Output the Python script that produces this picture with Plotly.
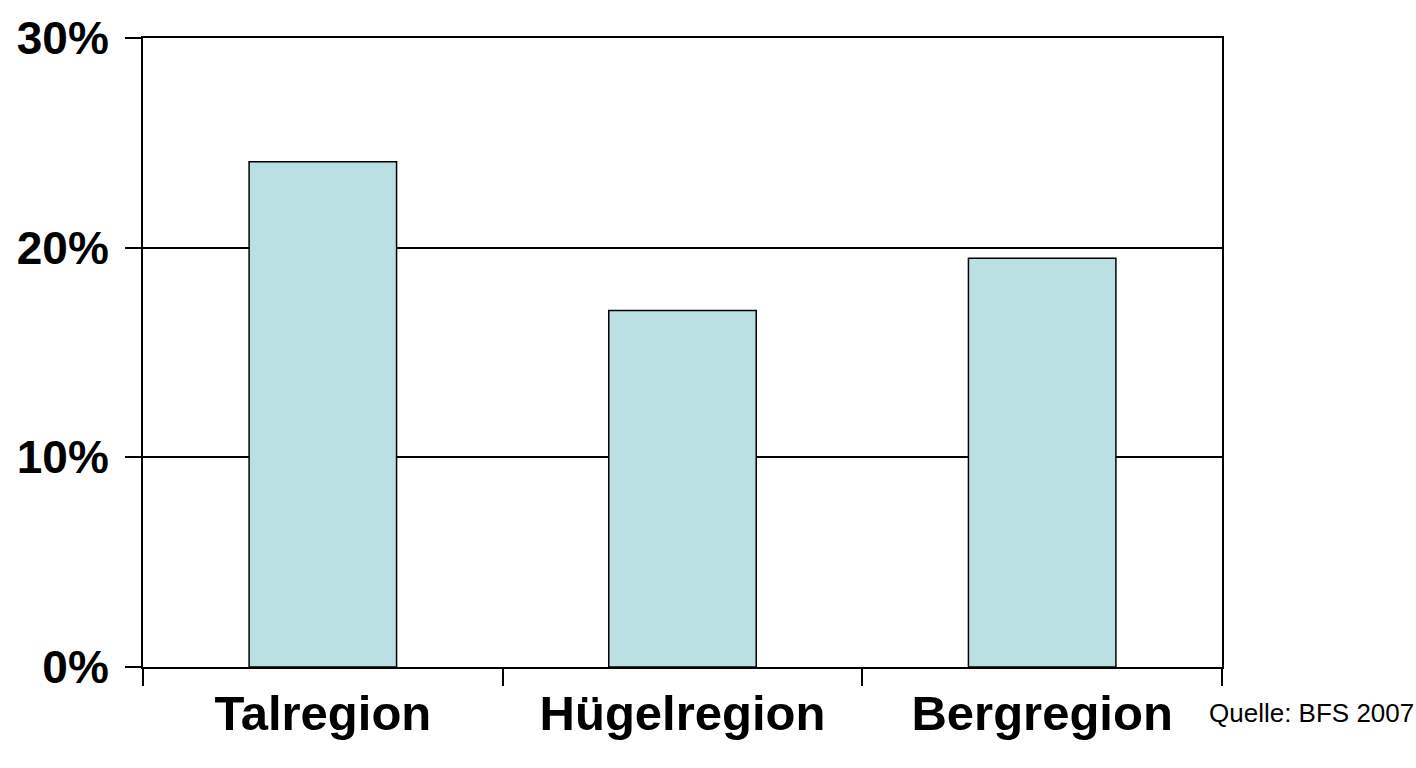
import plotly.graph_objects as go

categories = ["Talregion", "Hügelregion", "Bergregion"]
values = [24.1, 17.0, 19.5]
y_ticks = [0, 10, 20, 30]
y_tick_labels = ["0%", "10%", "20%", "30%"]
source_text = "Quelle: BFS 2007"

fig = go.Figure()
fig.add_trace(go.Bar(
    x=categories,
    y=values,
    marker=dict(color="#BAE0E3", line=dict(color="black", width=1.5)),
    hoverinfo="skip",
))

font_family = "Liberation Sans, Arial, Helvetica, sans-serif"

fig.update_layout(
    width=1416,
    height=768,
    margin=dict(l=143, r=194, t=31, b=101),
    paper_bgcolor="white",
    plot_bgcolor="white",
    bargap=0.59,
    showlegend=False,
    font=dict(family=font_family, color="black"),
)

fig.update_xaxes(
    type="category",
    showline=True,
    linecolor="black",
    linewidth=2,
    mirror=True,
    ticks="outside",
    tickson="boundaries",
    ticklen=17,
    tickwidth=1.5,
    tickcolor="black",
    tickfont=dict(size=49, family=font_family, color="black", weight="bold"),
    ticklabelstandoff=2,
    showgrid=False,
)

fig.update_yaxes(
    range=[0, 30],
    tickvals=y_ticks,
    ticktext=y_tick_labels,
    showline=True,
    linecolor="black",
    linewidth=2,
    mirror=True,
    ticks="outside",
    ticklen=16,
    tickwidth=1.5,
    tickcolor="black",
    tickfont=dict(size=46, family=font_family, color="black", weight="bold"),
    ticklabelstandoff=7,
    showgrid=True,
    gridcolor="black",
    gridwidth=1.5,
    zeroline=False,
)

fig.add_annotation(
    text=source_text,
    xref="paper", yref="paper",
    x=0.986, y=-0.0727,
    xanchor="left", yanchor="middle",
    showarrow=False,
    font=dict(size=26, family=font_family, color="black"),
)

fig.write_html(
    "out.html",
    config={"displayModeBar": False},
    post_script="document.body.style.margin='0';document.body.style.overflow='hidden';",
)
